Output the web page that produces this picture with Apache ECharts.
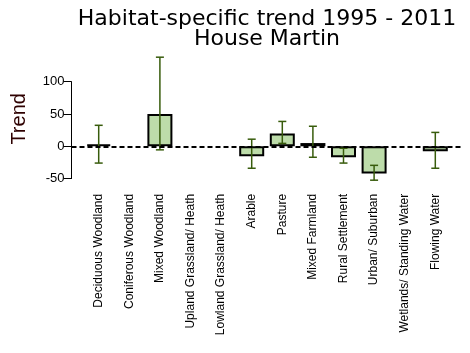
<!DOCTYPE html>
<html>
<head>
<meta charset="utf-8">
<script src="https://cdn.jsdelivr.net/npm/echarts@6/dist/echarts.min.js"></script>
<style>
  html, body { margin: 0; padding: 0; background: #fff; }
  #chart { width: 470px; height: 353px; }
</style>
</head>
<body>
<div id="chart"></div>
<script>
// habitats along the x axis
const habitats = [
  "Deciduous Woodland", "Coniferous Woodland", "Mixed Woodland",
  "Upland Grassland/ Heath", "Lowland Grassland/ Heath", "Arable",
  "Pasture", "Mixed Farmland", "Rural Settlement", "Urban/ Suburban",
  "Wetlands/ Standing Water", "Flowing Water"
];
// trend and confidence limits (null = no estimate)
const trend   = [3, null, 50, null, null, -15.5, 20, 5, -17, -42, null, -7.5];
const lowerCI = [-26, null, -5.5, null, null, -34, 4.5, -17, -26, -52.5, null, -34];
const upperCI = [32.5, null, 138, null, null, 11, 38.5, 31, -3, -29.5, null, 21.5];
const yTicks = [-50, 0, 50, 100];

const chart = echarts.init(document.getElementById("chart"));

const errData = [];
habitats.forEach((h, i) => {
  if (trend[i] !== null) errData.push([i, lowerCI[i], upperCI[i]]);
});

const errColor = "#385c0c";
const font = "'Liberation Sans', Arial, sans-serif";

const option = {
  animation: false,
  title: {
    text: "Habitat-specific trend 1995 - 2011\nHouse Martin",
    left: 262,
    top: 4,
    textAlign: "center",
    textStyle: {
      fontFamily: "'DejaVu Sans', Verdana, sans-serif",
      fontSize: 22,
      fontWeight: "normal",
      color: "#000",
      lineHeight: 20
    }
  },
  grid: [
    // full plot region (zero line, axis title)
    { left: 71.5, right: 7.5, top: 55.9, bottom: 171.2 },
    // category bands
    { left: 83.4, right: 19.4, top: 55.9, bottom: 171.2 },
    // visible y axis only between first and last tick
    { left: 71.5, right: 7.5, top: 81.7, bottom: 174.4 }
  ],
  xAxis: [
    { gridIndex: 0, type: "value", min: 0, max: 1, show: false },
    {
      gridIndex: 1,
      type: "category",
      data: habitats,
      axisLine: { show: false },
      axisTick: { show: false },
      axisLabel: {
        interval: 0,
        rotate: 90,
        margin: 12,
        fontFamily: font,
        fontSize: 12,
        color: "#000"
      }
    },
    { gridIndex: 2, type: "value", min: 0, max: 1, show: false }
  ],
  yAxis: [
    {
      gridIndex: 0,
      type: "value",
      min: -55,
      max: 140,
      name: "Trend",
      nameLocation: "middle",
      nameGap: 42,
      nameTextStyle: { fontFamily: font, fontSize: 20, color: "#2e0000" },
      axisLine: { show: false },
      axisTick: { show: false },
      axisLabel: { show: false },
      splitLine: { show: false }
    },
    {
      gridIndex: 1,
      type: "value",
      min: -55,
      max: 140,
      show: false,
      splitLine: { show: false }
    },
    {
      gridIndex: 2,
      type: "value",
      min: yTicks[0],
      max: yTicks[yTicks.length - 1],
      interval: 50,
      axisLine: { show: true, lineStyle: { color: "#000", width: 1 } },
      axisTick: { show: true, length: 8, lineStyle: { color: "#000" } },
      axisLabel: { margin: 7, fontFamily: font, fontSize: 13, color: "#000" },
      splitLine: { show: false }
    }
  ],
  series: [
    {
      type: "bar",
      xAxisIndex: 1,
      yAxisIndex: 1,
      data: trend,
      barWidth: 25,
      z: 2,
      itemStyle: { color: "#bddcaa", borderColor: "#000", borderWidth: 2 }
    },
    {
      type: "custom",
      xAxisIndex: 1,
      yAxisIndex: 1,
      data: errData,
      encode: { x: 0, y: [1, 2] },
      z: 3,
      renderItem(params, api) {
        const lo = api.coord([api.value(0), api.value(1)]);
        const hi = api.coord([api.value(0), api.value(2)]);
        const cap = 4;
        const style = { stroke: errColor, lineWidth: 1.5 };
        return {
          type: "group",
          children: [
            { type: "line", shape: { x1: lo[0], y1: lo[1], x2: hi[0], y2: hi[1] }, style },
            { type: "line", shape: { x1: lo[0] - cap, y1: lo[1], x2: lo[0] + cap, y2: lo[1] }, style },
            { type: "line", shape: { x1: hi[0] - cap, y1: hi[1], x2: hi[0] + cap, y2: hi[1] }, style }
          ]
        };
      }
    },
    {
      type: "line",
      xAxisIndex: 0,
      yAxisIndex: 0,
      data: [],
      z: 5,
      markLine: {
        silent: true,
        symbol: "none",
        label: { show: false },
        lineStyle: { color: "#000", width: 2, type: [5, 3] },
        data: [{ yAxis: 0 }]
      }
    }
  ]
};

chart.setOption(option);
</script>
</body>
</html>
